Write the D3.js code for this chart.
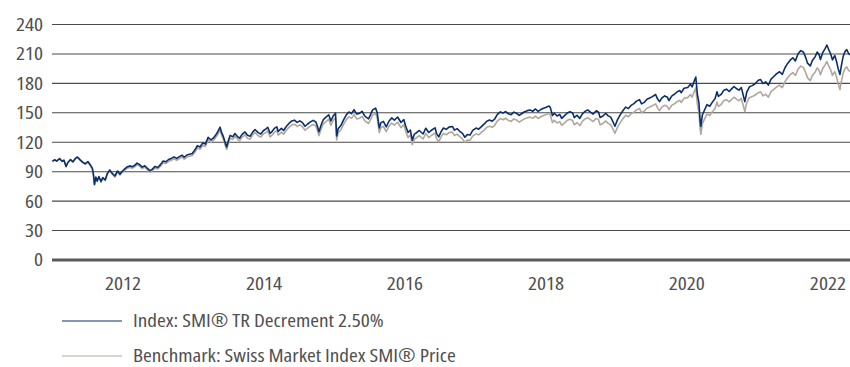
<!DOCTYPE html>
<html>
<head>
<meta charset="utf-8">
<script src="https://cdn.jsdelivr.net/npm/d3@7"></script>
<style>
  html, body { margin: 0; padding: 0; background: #ffffff; }
  svg { display: block; }
  text { font-family: 'Open Sans', 'DejaVu Sans Condensed', sans-serif; font-stretch: condensed; fill: #505050; }
</style>
</head>
<body>
<svg id="chart" width="850" height="367"></svg>
<script>
// Observation dates (rebased to 100 at the start)
const dates = [
  "2011-01-03","2011-01-14","2011-01-26","2011-02-09","2011-02-23","2011-03-04","2011-03-15","2011-03-24","2011-04-07","2011-04-19",
  "2011-05-03","2011-05-13","2011-05-26","2011-06-09","2011-06-22","2011-07-06","2011-07-20","2011-07-29","2011-08-04","2011-08-09",
  "2011-08-16","2011-08-23","2011-09-01","2011-09-12","2011-09-21","2011-10-04","2011-10-14","2011-10-27","2011-11-09","2011-11-23",
  "2011-12-07","2011-12-19","2011-12-30",
  "2012-01-11","2012-01-24","2012-02-08","2012-02-22","2012-03-07","2012-03-16","2012-03-29","2012-04-12","2012-04-26","2012-05-10",
  "2012-05-23","2012-06-04","2012-06-18","2012-07-02","2012-07-16","2012-07-30","2012-08-13","2012-08-27","2012-09-10","2012-09-24",
  "2012-10-08","2012-10-22","2012-11-05","2012-11-16","2012-11-30","2012-12-14","2012-12-28",
  "2013-01-11","2013-01-23","2013-02-06","2013-02-20","2013-03-06","2013-03-20","2013-04-04","2013-04-17","2013-04-30","2013-05-10",
  "2013-05-21","2013-05-29","2013-06-06","2013-06-13","2013-06-24","2013-07-03","2013-07-12","2013-07-26","2013-08-06","2013-08-21",
  "2013-08-30","2013-09-11","2013-09-27","2013-10-09","2013-10-23","2013-11-06","2013-11-18","2013-12-04","2013-12-18","2013-12-31",
  "2014-01-14","2014-01-23","2014-02-04","2014-02-14","2014-02-28","2014-03-11","2014-03-18","2014-04-04","2014-04-15","2014-04-30",
  "2014-05-14","2014-05-28","2014-06-10","2014-06-24","2014-07-08","2014-07-22","2014-08-04","2014-08-18","2014-09-01","2014-09-15",
  "2014-09-29","2014-10-08","2014-10-15","2014-10-28","2014-11-07","2014-11-21","2014-12-05","2014-12-16","2014-12-29",
  "2015-01-09","2015-01-15","2015-01-23","2015-02-06","2015-02-20","2015-03-06","2015-03-20","2015-04-02","2015-04-15","2015-04-29",
  "2015-05-13","2015-05-27","2015-06-10","2015-06-29","2015-07-08","2015-07-20","2015-08-05","2015-08-13","2015-08-24","2015-09-02",
  "2015-09-14","2015-09-29","2015-10-13","2015-10-27","2015-11-10","2015-11-27","2015-12-14","2015-12-29",
  "2016-01-08","2016-01-20","2016-02-01","2016-02-11","2016-02-22","2016-03-04","2016-03-18","2016-04-07","2016-04-21","2016-05-06",
  "2016-05-20","2016-06-08","2016-06-16","2016-06-27","2016-07-08","2016-07-21","2016-08-05","2016-08-19","2016-09-06","2016-09-16",
  "2016-09-30","2016-10-14","2016-10-28","2016-11-09","2016-11-22","2016-12-06","2016-12-20",
  "2017-01-06","2017-01-20","2017-02-03","2017-02-17","2017-03-03","2017-03-17","2017-03-31","2017-04-13","2017-04-26","2017-05-12",
  "2017-05-26","2017-06-09","2017-06-23","2017-07-07","2017-07-21","2017-08-04","2017-08-18","2017-09-01","2017-09-15","2017-09-29",
  "2017-10-13","2017-10-27","2017-11-10","2017-11-24","2017-12-08","2017-12-22",
  "2018-01-05","2018-01-19","2018-01-26","2018-02-06","2018-02-16","2018-03-02","2018-03-16","2018-03-26","2018-04-10","2018-04-24",
  "2018-05-08","2018-05-22","2018-05-30","2018-06-13","2018-06-28","2018-07-12","2018-07-27","2018-08-08","2018-08-22","2018-09-05",
  "2018-09-21","2018-10-03","2018-10-11","2018-10-26","2018-11-09","2018-11-22","2018-12-05","2018-12-14","2018-12-27",
  "2019-01-10","2019-01-24","2019-02-07","2019-02-21","2019-03-07","2019-03-21","2019-04-04","2019-04-18","2019-05-03","2019-05-14",
  "2019-05-28","2019-06-11","2019-06-25","2019-07-09","2019-07-26","2019-08-06","2019-08-15","2019-08-28","2019-09-11","2019-09-25",
  "2019-10-03","2019-10-17","2019-10-31","2019-11-14","2019-11-28","2019-12-06","2019-12-20",
  "2020-01-08","2020-01-22","2020-01-31","2020-02-10","2020-02-19","2020-02-27","2020-03-06","2020-03-12","2020-03-16","2020-03-24",
  "2020-04-06","2020-04-17","2020-05-01","2020-05-15","2020-05-29","2020-06-08","2020-06-15","2020-06-29","2020-07-13","2020-07-27",
  "2020-08-10","2020-08-24","2020-09-04","2020-09-18","2020-09-30","2020-10-12","2020-10-30","2020-11-09","2020-11-23","2020-12-07",
  "2020-12-21",
  "2021-01-08","2021-01-20","2021-02-01","2021-02-15","2021-03-01","2021-03-15","2021-03-29","2021-04-12","2021-04-28","2021-05-12",
  "2021-05-26","2021-06-09","2021-06-22","2021-07-06","2021-07-19","2021-08-02","2021-08-16","2021-08-30","2021-09-10","2021-09-20",
  "2021-10-04","2021-10-15","2021-10-29","2021-11-09","2021-11-19","2021-11-26","2021-12-07","2021-12-20","2021-12-29",
  "2022-01-07","2022-01-18","2022-01-27","2022-02-08","2022-02-18","2022-02-25","2022-03-07","2022-03-15","2022-03-24","2022-04-01",
  "2022-04-11","2022-04-20","2022-04-28"
];

// Index: SMI TR Decrement 2.50%
const indexValues = [
  100.0,101.6,100.4,102.8,100.1,101.2,94.8,98.9,101.9,99.6,
  103.1,104.5,101.8,99.2,97.6,99.8,96.0,93.1,86.2,76.5,
  84.0,80.1,84.6,79.5,83.4,81.2,87.5,91.2,87.9,85.1,
  90.2,87.0,89.6,
  92.0,94.2,95.4,94.6,96.3,98.2,96.9,94.1,95.6,92.8,
  90.4,92.1,94.9,93.8,96.7,100.4,99.6,101.9,103.0,104.6,
  103.1,104.8,106.3,104.2,106.5,107.3,108.0,
  111.8,115.9,114.7,118.8,117.6,124.6,121.8,123.9,127.4,130.5,
  134.9,129.3,125.8,121.2,114.6,121.0,126.5,125.1,128.4,124.9,
  123.6,127.3,130.0,126.8,125.5,129.8,132.5,129.3,127.9,131.2,
  133.2,134.8,128.6,130.4,133.9,135.2,130.5,133.6,131.4,135.8,
  138.9,141.2,142.0,139.7,141.3,139.4,135.8,138.1,140.2,141.8,
  140.1,135.4,130.1,137.9,142.6,145.0,147.5,141.2,146.6,
  149.1,126.0,133.4,136.5,142.3,147.4,150.3,148.6,152.6,148.2,
  148.9,151.0,146.1,143.4,146.8,152.5,154.2,149.6,134.0,139.5,
  140.8,135.2,140.9,144.3,142.1,145.2,139.6,142.5,
  135.8,129.4,131.9,121.6,127.8,129.2,131.5,127.9,133.8,129.5,
  131.7,134.2,128.3,124.9,129.8,134.0,132.6,134.9,135.6,131.8,
  133.4,130.7,128.5,124.6,127.3,126.8,131.5,
  133.9,132.8,135.4,138.0,140.9,142.1,141.0,143.2,147.6,150.4,
  149.2,150.8,148.5,147.6,150.2,149.0,146.9,148.8,150.6,151.7,
  152.3,151.0,153.4,150.9,152.8,154.1,
  155.2,156.4,155.0,146.8,149.1,146.3,147.8,143.9,146.6,149.3,
  150.5,149.2,144.6,147.0,143.8,148.6,151.2,152.4,150.3,148.2,
  151.6,150.2,144.8,146.2,149.0,146.4,145.1,141.5,135.8,
  142.8,147.6,151.9,155.3,153.8,157.1,158.9,161.4,162.9,158.6,
  160.1,163.3,164.6,166.0,168.1,163.2,160.9,164.8,166.7,165.3,
  162.0,166.5,168.4,170.8,172.2,170.0,174.5,
  175.3,178.6,175.9,181.5,186.0,168.4,160.2,142.5,135.6,147.3,
  153.1,157.8,156.2,160.4,164.1,171.0,166.3,168.2,172.4,173.6,
  171.2,174.1,176.3,174.0,172.6,175.2,160.9,170.5,176.0,177.2,
  178.8,
  182.6,183.4,179.2,181.0,177.8,183.9,186.5,189.2,191.3,188.6,
  195.4,199.8,203.1,205.6,202.4,209.7,212.9,211.2,206.0,200.1,
  197.2,202.8,206.5,211.4,208.7,203.8,210.5,214.9,218.6,
  214.2,209.4,203.5,207.8,201.3,195.0,188.6,198.4,207.2,211.5,
  214.0,210.2,208.4
];

// Benchmark: Swiss Market Index SMI Price
const benchmarkValues = [
  100.0,101.5,100.3,102.6,99.9,101.0,94.5,98.6,101.5,99.2,
  102.7,104.0,101.3,98.6,97.0,99.1,95.3,92.4,85.5,75.9,
  83.3,79.4,83.9,78.8,82.6,80.4,86.6,90.3,87.0,84.2,
  89.2,86.0,88.6,
  90.6,92.8,93.9,93.1,94.8,96.7,95.4,92.6,94.1,91.3,
  88.9,90.6,93.3,92.2,95.0,98.6,97.8,100.1,101.2,102.7,
  101.2,102.9,104.3,102.2,104.4,105.2,105.9,
  109.6,113.6,112.4,116.4,115.2,122.1,119.3,121.4,124.8,127.8,
  132.1,126.6,123.1,118.6,112.1,118.4,123.8,122.4,125.6,122.2,
  120.9,124.5,127.1,123.9,122.6,126.8,129.4,126.2,124.8,128.0,
  129.5,131.0,125.0,126.7,130.1,131.4,126.8,129.8,127.7,131.9,
  134.9,137.1,137.9,135.6,137.2,135.3,131.8,134.0,136.0,137.6,
  135.9,131.3,126.2,133.7,138.3,140.6,143.0,136.9,142.1,
  144.3,121.9,129.1,132.1,137.7,142.6,145.4,143.8,147.6,143.3,
  143.9,145.9,141.2,138.6,141.8,147.3,148.9,144.4,129.3,134.6,
  135.8,130.4,135.8,139.1,136.9,139.9,134.4,137.2,
  130.6,124.4,126.8,116.9,122.8,124.1,126.3,122.8,128.5,124.3,
  126.4,128.8,123.1,119.8,124.5,128.5,127.1,129.3,129.9,126.3,
  127.8,125.2,123.0,119.3,121.8,121.4,125.8,
  128.1,127.0,129.5,131.9,134.7,135.8,134.7,136.8,141.0,143.6,
  142.4,143.9,141.7,140.8,143.3,142.1,140.1,141.8,143.5,144.5,
  145.1,143.8,146.1,143.7,145.5,146.7,
  147.7,148.8,147.5,139.6,141.8,139.1,140.5,136.8,139.3,141.9,
  143.0,141.7,137.3,139.6,136.5,141.1,143.5,144.6,142.6,140.6,
  143.8,142.5,137.3,138.6,141.2,138.7,137.4,134.0,128.6,
  135.2,139.7,143.7,146.9,145.5,148.6,150.2,152.5,153.9,149.8,
  151.2,154.2,155.4,156.7,158.6,154.0,151.8,155.5,157.2,155.9,
  152.8,157.0,158.7,160.9,162.2,160.1,164.3,
  165.0,168.1,165.5,170.7,174.9,158.3,150.6,133.9,127.4,138.4,
  143.8,148.2,146.7,150.6,154.1,160.5,156.1,157.9,161.8,162.9,
  160.6,163.3,165.4,163.2,161.8,164.2,150.8,159.8,164.9,166.0,
  167.4,
  170.1,170.8,166.8,168.4,165.4,171.0,173.3,175.8,177.7,175.1,
  181.3,185.3,188.3,190.5,187.5,194.2,197.1,195.5,190.6,185.1,
  182.3,187.5,190.8,195.3,192.7,188.2,194.4,198.4,201.8,
  197.6,193.0,187.6,191.5,185.5,179.7,173.1,182.2,190.2,194.1,
  196.4,192.9,191.3
];

const yTicks = [0, 30, 60, 90, 120, 150, 180, 210, 240];
const xTickYears = [2012, 2014, 2016, 2018, 2020, 2022];
const seriesNames = ["Index: SMI® TR Decrement 2.50%", "Benchmark: Swiss Market Index SMI® Price"];
const seriesColors = ["#0b2f6b", "#b0a79d"];

const svg = d3.select("#chart");
const plot = { left: 52, right: 850, top: 24, bottom: 259.5 };
const fontSize = 18;
const textWidthScale = 1.18; // widen the condensed face a little

const parse = d3.timeParse("%Y-%m-%d");
const rows = dates.map((d, i) => ({ date: parse(d), idx: indexValues[i], bench: benchmarkValues[i] }));

const x = d3.scaleTime()
  .domain([new Date(2011, 0, 1), new Date(2022, 3, 28)])
  .range([plot.left, plot.right]);

const y = d3.scaleLinear()
  .domain([0, 240])
  .range([plot.bottom, plot.top]);

// Horizontal gridlines with value labels
const yAxis = d3.axisLeft(y)
  .tickValues(yTicks)
  .tickSize(-(plot.right - plot.left))
  .tickPadding(9)
  .tickFormat(d3.format("d"));

const gy = svg.append("g")
  .attr("transform", `translate(${plot.left},0)`)
  .call(yAxis);
gy.select(".domain").remove();
gy.selectAll(".tick line")
  .attr("stroke", d => d === 0 ? "#5a5a5a" : "#4a4a4a")
  .attr("stroke-width", d => d === 0 ? 3.2 : 1.1);
gy.selectAll(".tick text")
  .attr("font-size", fontSize)
  .attr("dy", "0.36em")
  .style("fill", "#505050");

// Year labels
const xAxis = d3.axisBottom(x)
  .tickValues(xTickYears.map(yr => new Date(yr, 0, 1)))
  .tickSize(0)
  .tickPadding(0)
  .tickFormat(d3.timeFormat("%Y"));

const gx = svg.append("g")
  .attr("transform", `translate(0,${plot.bottom})`)
  .call(xAxis);
gx.select(".domain").remove();
gx.selectAll(".tick text")
  .attr("font-size", fontSize)
  .attr("y", 31)
  .attr("dy", 0)
  .style("fill", "#505050");

// Series lines
svg.append("clipPath").attr("id", "plotClip")
  .append("rect")
  .attr("x", plot.left).attr("y", 0)
  .attr("width", plot.right - plot.left).attr("height", plot.bottom);

const lineBench = d3.line().x(d => x(d.date)).y(d => y(d.bench));
const lineIdx = d3.line().x(d => x(d.date)).y(d => y(d.idx));

const lines = svg.append("g").attr("clip-path", "url(#plotClip)");
lines.append("path")
  .datum(rows)
  .attr("fill", "none")
  .attr("stroke", seriesColors[1])
  .attr("stroke-width", 1.6)
  .attr("stroke-linejoin", "round")
  .attr("d", lineBench);
lines.append("path")
  .datum(rows)
  .attr("fill", "none")
  .attr("stroke", seriesColors[0])
  .attr("stroke-width", 1.6)
  .attr("stroke-linejoin", "round")
  .attr("d", lineIdx);

// Legend
const legendRows = [321, 356];
const legend = svg.append("g");
seriesNames.forEach((name, i) => {
  legend.append("line")
    .attr("x1", 62).attr("x2", 122)
    .attr("y1", legendRows[i]).attr("y2", legendRows[i])
    .attr("stroke", seriesColors[i])
    .attr("stroke-width", 1.2);
  legend.append("text")
    .attr("x", 133)
    .attr("y", legendRows[i])
    .attr("dy", "0.36em")
    .attr("font-size", fontSize)
    .style("fill", "#505050")
    .text(name);
});

// Apply the horizontal widening about each label's own anchor
svg.selectAll("text").each(function () {
  const t = d3.select(this);
  const x0 = +t.attr("x") || 0;
  t.attr("x", x0 / textWidthScale).attr("transform", `scale(${textWidthScale},1)`);
});
</script>
</body>
</html>
